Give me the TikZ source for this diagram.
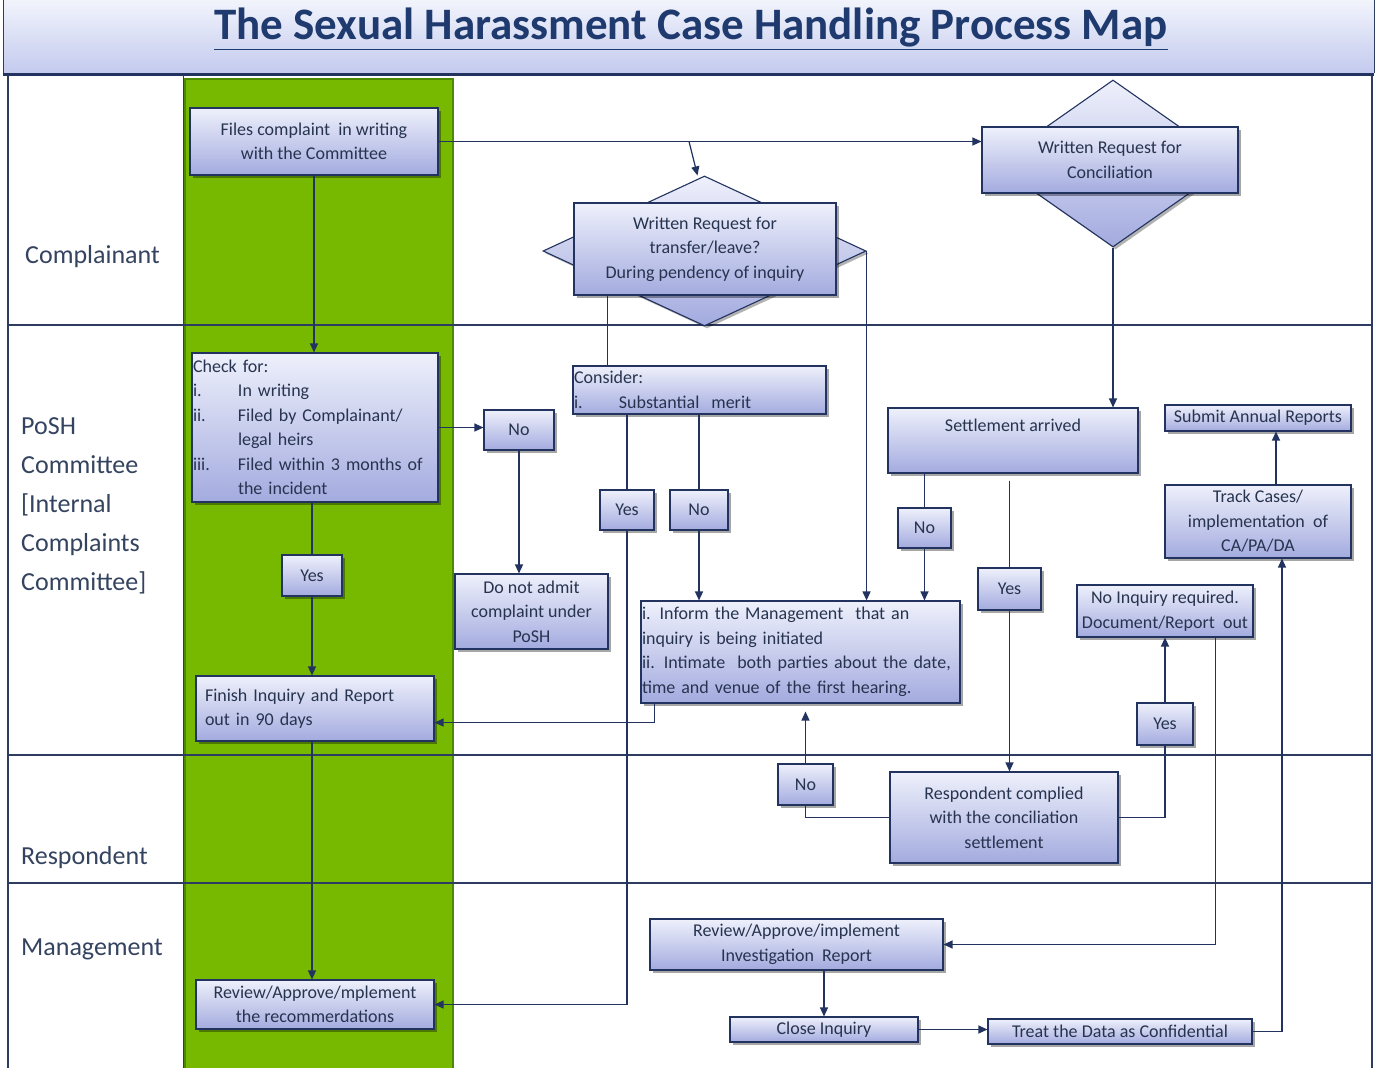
\documentclass[tikz,border=0pt]{standalone}
\usepackage{fontspec}
\setmainfont{Carlito}
\usetikzlibrary{shapes.geometric,shadows,arrows.meta,calc}
\definecolor{navy}{HTML}{22335F}
\definecolor{titleblue}{HTML}{1F3A6E}
\definecolor{boxtop}{HTML}{EEF0FB}
\definecolor{boxbot}{HTML}{A3ABDF}
\definecolor{boxtext}{HTML}{27344F}
\definecolor{lanetext}{HTML}{34435F}
\definecolor{laneline}{HTML}{2E3C62}
\definecolor{poshgreen}{HTML}{76B900}
\definecolor{poshdark}{HTML}{4E8A00}
\definecolor{bartop}{HTML}{F2F4FC}
\definecolor{barbot}{HTML}{C3CAEE}
\begin{document}
\begin{tikzpicture}[x=1pt,y=-1pt,
  box/.style={draw=navy, line width=1.1pt, top color=boxtop, bottom color=boxbot,
    text=boxtext, font=\fontsize{18}{24.5}\selectfont, align=center, inner sep=1pt,
    drop shadow={shadow xshift=2.5pt,shadow yshift=-2.5pt,fill=black,opacity=0.35}},
  lbox/.style={box, align=left},
  dia/.style={diamond, draw=navy, line width=1.1pt, top color=boxtop, bottom color=boxbot,
    inner sep=0pt, drop shadow={shadow xshift=2.5pt,shadow yshift=-2.5pt,fill=black,opacity=0.3}},
  conn/.style={draw=navy, line width=1.2pt},
  arr/.style={conn, -{Triangle[length=9pt,width=8pt]}},
  lane/.style={text=lanetext, font=\fontsize{26}{39}\selectfont, anchor=west, align=left, inner sep=0pt}
]
\useasboundingbox (0,0) rectangle (1377,1068);
% title bar
\shade[top color=bartop, bottom color=barbot] (3,0) rectangle (1374,73);
\draw[laneline, line width=1pt] (3,0) -- (3,73) (1374,0) -- (1374,73);
\draw[navy, line width=3pt] (3,74) -- (1374,74);
\node[text=titleblue, font=\fontsize{45}{52}\selectfont\bfseries] (title) at (691,29) {\underline{The Sexual Harassment Case Handling Process Map}};
% green column
\fill[poshgreen] (185,79) rectangle (453,1068);
\draw[poshdark, line width=1.5pt] (185,1068) -- (185,79) -- (453,79) -- (453,1068);
% frame and lanes
\draw[laneline, line width=1.2pt] (8,76) -- (8,1068);
\draw[laneline, line width=2pt] (1372,76) -- (1372,1068);
\draw[laneline, line width=1pt] (183,76) -- (183,1068);
\draw[laneline, line width=1.2pt] (8,325) -- (1372,325);
\draw[laneline, line width=1.2pt] (8,755) -- (1372,755);
\draw[laneline, line width=1.2pt] (8,883) -- (1372,883);
% lane labels
\node[lane] (l1) at (25,257) {Complainant};
\node[lane] (l2) at (21,506) {PoSH\\Committee\\{[Internal}\\Complaints\\Committee]};
\node[lane] (l3) at (21,858) {Respondent};
\node[lane] (l4) at (21,949) {Management};
% diamonds
\node[dia, minimum width=323, minimum height=150] (d1) at (704.5,251) {};
\node[dia, minimum width=238, minimum height=167] (d2) at (1113,163.5) {};
% boxes
\node[box, minimum width=248, minimum height=67] (files) at (314,141.5) {Files complaint\ \ in writing\\with the Committee};
\node[lbox, minimum width=246, minimum height=149, text width=244] (check) at (315,427.5)
 {Check for:\\
  \makebox[45pt][l]{i.}In writing\\
  \makebox[45pt][l]{ii.}Filed by Complainant/\\
  \makebox[45pt][l]{}legal heirs\\
  \makebox[45pt][l]{iii.}Filed within 3 months of\\
  \makebox[45pt][l]{}the incident};
\node[box, minimum width=70, minimum height=40] (noA) at (519,430) {No};
\node[box, minimum width=153, minimum height=75] (donot) at (531.5,611.5) {Do not admit\\complaint under\\PoSH};
\node[box, minimum width=60, minimum height=41] (yesA) at (312,575.5) {Yes};
\node[lbox, minimum width=238, minimum height=65, text width=220] (finish) at (315,708.5) {Finish Inquiry and Report\\out in 90 days};
\node[box, minimum width=238, minimum height=49] (revrec) at (315,1004.5) {Review/Approve/mplement\\the recommerdations};
\node[box, minimum width=262, minimum height=92] (wrt) at (705,249) {Written Request for\\transfer/leave?\\During pendency of inquiry};
\node[lbox, minimum width=253, minimum height=48, text width=251] (consider) at (699.5,390) {Consider:\\\makebox[45pt][l]{i.}Substantial\ \ merit};
\node[box, minimum width=54, minimum height=40] (yesB) at (627,510) {Yes};
\node[box, minimum width=58, minimum height=40] (noB) at (699,510) {No};
\node[lbox, minimum width=319, minimum height=102, text width=317] (inform) at (800.5,652)
 {i. Inform the Management\ \ that an\\inquiry is being initiated\\ii. Intimate\ \ both parties about the date,\\time and venue of the first hearing.};
\node[box, minimum width=256, minimum height=66] (concil) at (1110,160) {Written Request for\\Conciliation};
\node[box, minimum width=250, minimum height=65] (settle) at (1013,440.5) {Settlement arrived\\[6pt]};
\node[box, minimum width=53, minimum height=40] (noC) at (924.5,528) {No};
\node[box, minimum width=63, minimum height=42] (yesC) at (1009.5,589) {Yes};
\node[box, minimum width=228, minimum height=91] (resp) at (1004,817.5) {Respondent complied\\with the conciliation\\settlement};
\node[box, minimum width=55, minimum height=41] (noD) at (805.5,784.5) {No};
\node[box, minimum width=56, minimum height=42] (yesD) at (1165,724) {Yes};
\node[box, minimum width=176, minimum height=52] (noinq) at (1165,611) {No Inquiry required.\\Document/Report\ \ out};
\node[box, minimum width=186, minimum height=73] (track) at (1258,521.5) {Track Cases/\\implementation\ \ of\\CA/PA/DA};
\node[box, minimum width=186, minimum height=26] (submit) at (1258,418) {Submit Annual Reports};
\node[box, minimum width=293, minimum height=51] (revinv) at (796.5,944.5) {Review/Approve/implement\\Investigation\ \ Report};
\node[box, minimum width=188, minimum height=25] (close) at (824,1029.5) {Close Inquiry};
\node[box, minimum width=264, minimum height=25] (treat) at (1120,1031.5) {Treat the Data as Confidential};
% connectors
\draw[arr] (files.east) -- (files.east -| concil.west);
\coordinate (br) at (689,141.5);
\coordinate (d1t) at ($(d1.north)+(-7,0)$);
\draw[arr] (br) -- (d1t);
\draw[arr] (files.south) -- (files.south |- check.north);
\draw[arr] (check.east) -- (check.east -| noA.west);
\draw[arr] (noA.south) -- (noA.south |- donot.north);
\draw[conn] (check.south -| yesA) -- (yesA.north);
\draw[arr] (yesA.south) -- (yesA.south |- finish.north);
\draw[arr] (finish.south -| yesA) -- (yesA |- revrec.north);
\coordinate (a1) at ($(wrt.south west)+(34,0)$);
\draw[conn] (a1) -- (a1 |- consider.north);
\draw[arr] (d1.east) -- (d1.east |- inform.north);
\draw[conn] (consider.south -| yesB) -- (yesB.north);
\draw[arr] (yesB.south) |- (revrec.east);
\draw[conn] (consider.south -| noB) -- (noB.north);
\draw[arr] (noB.south) -- (noB.south |- inform.north);
\coordinate (a2) at ($(inform.south west)+(14,0)$);
\coordinate (f1) at ($(finish.south east)+(0,-19)$);
\draw[arr] (a2) |- (f1);
\draw[arr] (d2.south) -- (d2.south |- settle.north);
\draw[conn] (settle.south -| noC) -- (noC.north);
\draw[arr] (noC.south) -- (noC.south |- inform.north);
\coordinate (s1) at ($(settle.south -| yesC)+(0,7)$);
\draw[conn] (s1) -- (yesC.north);
\draw[arr] (yesC.south) -- (yesC.south |- resp.north);
\draw[conn] (resp.west) -| (noD.south);
\draw[arr] (noD.north) -- ($(noD.north |- inform.south)+(0,8)$);
\draw[conn] (resp.east) -| (yesD.south);
\draw[arr] (yesD.north) -- (yesD.north |- noinq.south);
\coordinate (a3) at ($(noinq.south east)+(-38,0)$);
\draw[arr] (a3) |- (revinv.east);
\draw[arr] (close.north |- revinv.south) -- (close.north);
\draw[arr] (close.east) -- (close.east -| treat.west);
\coordinate (a4) at ($(track.south)+(24,0)$);
\draw[arr] (treat.east) -| (a4);
\coordinate (a5) at ($(track.north)+(18,0)$);
\draw[arr] (a5) -- (a5 |- submit.south);
\end{tikzpicture}
\end{document}
